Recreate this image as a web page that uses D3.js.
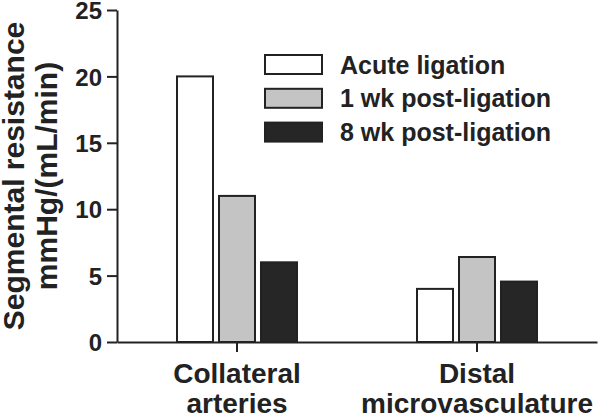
<!DOCTYPE html>
<html>
<head>
<meta charset="utf-8">
<script src="https://cdn.jsdelivr.net/npm/d3@7"></script>
<style>
  html, body { margin: 0; padding: 0; background: #fff; }
  svg { display: block; }
  text { font-family: "Liberation Sans", Arial, Helvetica, sans-serif; font-weight: bold; fill: #222; }
</style>
</head>
<body>
<svg id="chart" width="600" height="418"></svg>
<script>
const categories = ["Collateral\narteries", "Distal\nmicrovasculature"];
const seriesNames = ["Acute ligation", "1 wk post-ligation", "8 wk post-ligation"];
const acute = [20.0, 4.0];
const wk1 = [11.0, 6.4];
const wk8 = [6.0, 4.55];
const yTicks = [0, 5, 10, 15, 20, 25];
const colors = ["#ffffff", "#c4c4c4", "#262626"];

const seriesValues = [acute, wk1, wk8];
const svg = d3.select("#chart");
const ink = "#222";

const y = d3.scaleLinear().domain([0, 25]).range([342, 10]);
const x0 = d3.scaleBand().domain(categories).range([117, 597]).padding(0);
const x1 = d3.scaleBand().domain(seriesNames).range([-61, 61]).paddingInner(0.095).paddingOuter(0);

// bars
categories.forEach((cat, ci) => {
  const cx = x0(cat) + x0.bandwidth() / 2;
  seriesNames.forEach((s, si) => {
    const v = seriesValues[si][ci];
    svg.append("rect")
      .attr("x", cx + x1(s) + 1)
      .attr("y", y(v))
      .attr("width", x1.bandwidth() - 2)
      .attr("height", y(0) - y(v))
      .attr("fill", colors[si])
      .attr("stroke", ink)
      .attr("stroke-width", 2);
  });
});

// y axis
const yAxis = svg.append("g").attr("transform", "translate(117,0)")
  .call(d3.axisLeft(y).tickValues(yTicks).tickSize(10).tickSizeOuter(0).tickPadding(5));
yAxis.select(".domain").attr("stroke", ink).attr("stroke-width", 2);
yAxis.selectAll(".tick line").attr("stroke", ink).attr("stroke-width", 2);
yAxis.selectAll(".tick text").style("font-size", "24px").attr("dy", "0.36em").attr("fill", ink);

// x axis
const xAxis = svg.append("g").attr("transform", "translate(0,342)")
  .call(d3.axisBottom(x0).tickSize(10).tickSizeOuter(0).tickFormat(""));
xAxis.select(".domain").attr("stroke", ink).attr("stroke-width", 2);
xAxis.selectAll(".tick line").attr("stroke", ink).attr("stroke-width", 2);
xAxis.selectAll(".tick").each(function(d) {
  const g = d3.select(this);
  d.split("\n").forEach((line, i) => {
    g.append("text")
      .attr("x", 0)
      .attr("y", 41 + i * 30)
      .attr("text-anchor", "middle")
      .style("font-size", "28px")
      .text(line);
  });
});

// y label
const yl = svg.append("g").attr("transform", "translate(0,176) rotate(-90)");
yl.append("text").attr("x", 0).attr("y", 24).attr("text-anchor", "middle")
  .style("font-size", "30px").text("Segmental resistance");
yl.append("text").attr("x", 0).attr("y", 57).attr("text-anchor", "middle")
  .style("font-size", "30px").text("mmHg/(mL/min)");

// legend
const legend = svg.append("g");
seriesNames.forEach((s, i) => {
  const ty = 55 + i * 33.8;
  legend.append("rect")
    .attr("x", 265).attr("y", ty)
    .attr("width", 57).attr("height", 19)
    .attr("fill", colors[i]).attr("stroke", ink).attr("stroke-width", 2);
  legend.append("text")
    .attr("x", 340).attr("y", ty + 18.5)
    .style("font-size", "25px")
    .text(s);
});
</script>
</body>
</html>
